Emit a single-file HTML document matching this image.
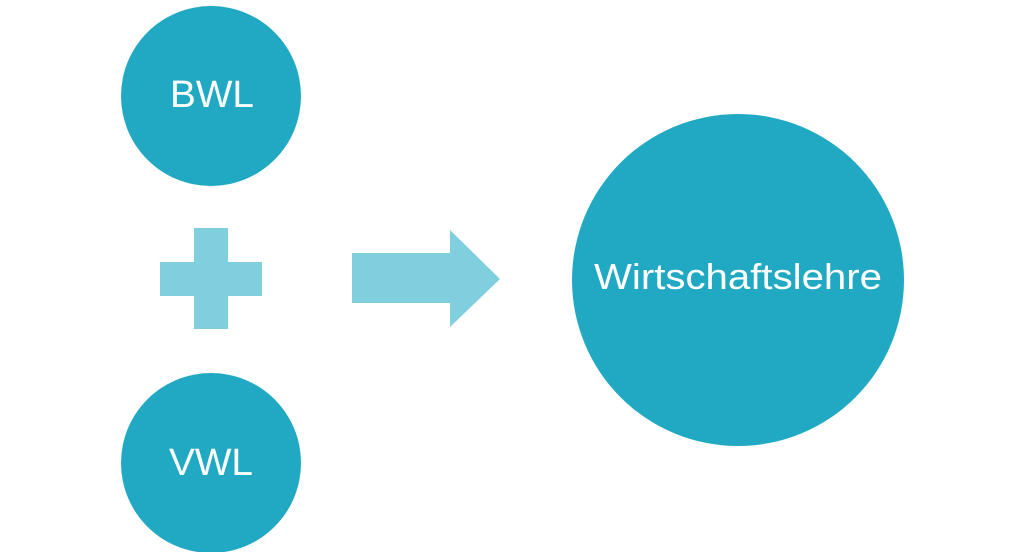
<!DOCTYPE html>
<html><head><meta charset="utf-8"><style>html,body{margin:0;padding:0;background:#fff;}svg{display:block}</style></head>
<body>
<svg width="1024" height="552" viewBox="0 0 1024 552" xmlns="http://www.w3.org/2000/svg">
<rect width="1024" height="552" fill="#fff"/>
<circle cx="211" cy="96" r="90" fill="#21a9c4"/>
<circle cx="211" cy="463" r="90" fill="#21a9c4"/>
<circle cx="738" cy="280" r="166" fill="#21a9c4"/>
<rect x="160" y="262" width="102" height="34" fill="#80cfdf"/>
<rect x="194" y="228" width="34" height="101" fill="#80cfdf"/>
<polygon points="352,253 450,253 450,230 500,279 450,327 450,303 352,303" fill="#80cfdf"/>
<g font-family="Liberation Sans, sans-serif" fill="#fff">
<text x="170" y="107" font-size="38" textLength="84" lengthAdjust="spacingAndGlyphs">BWL</text>
<text x="169" y="475" font-size="38" textLength="84" lengthAdjust="spacingAndGlyphs">VWL</text>
<text x="594" y="289" font-size="36" textLength="288" lengthAdjust="spacingAndGlyphs">Wirtschaftslehre</text>
</g>
</svg>
</body></html>
